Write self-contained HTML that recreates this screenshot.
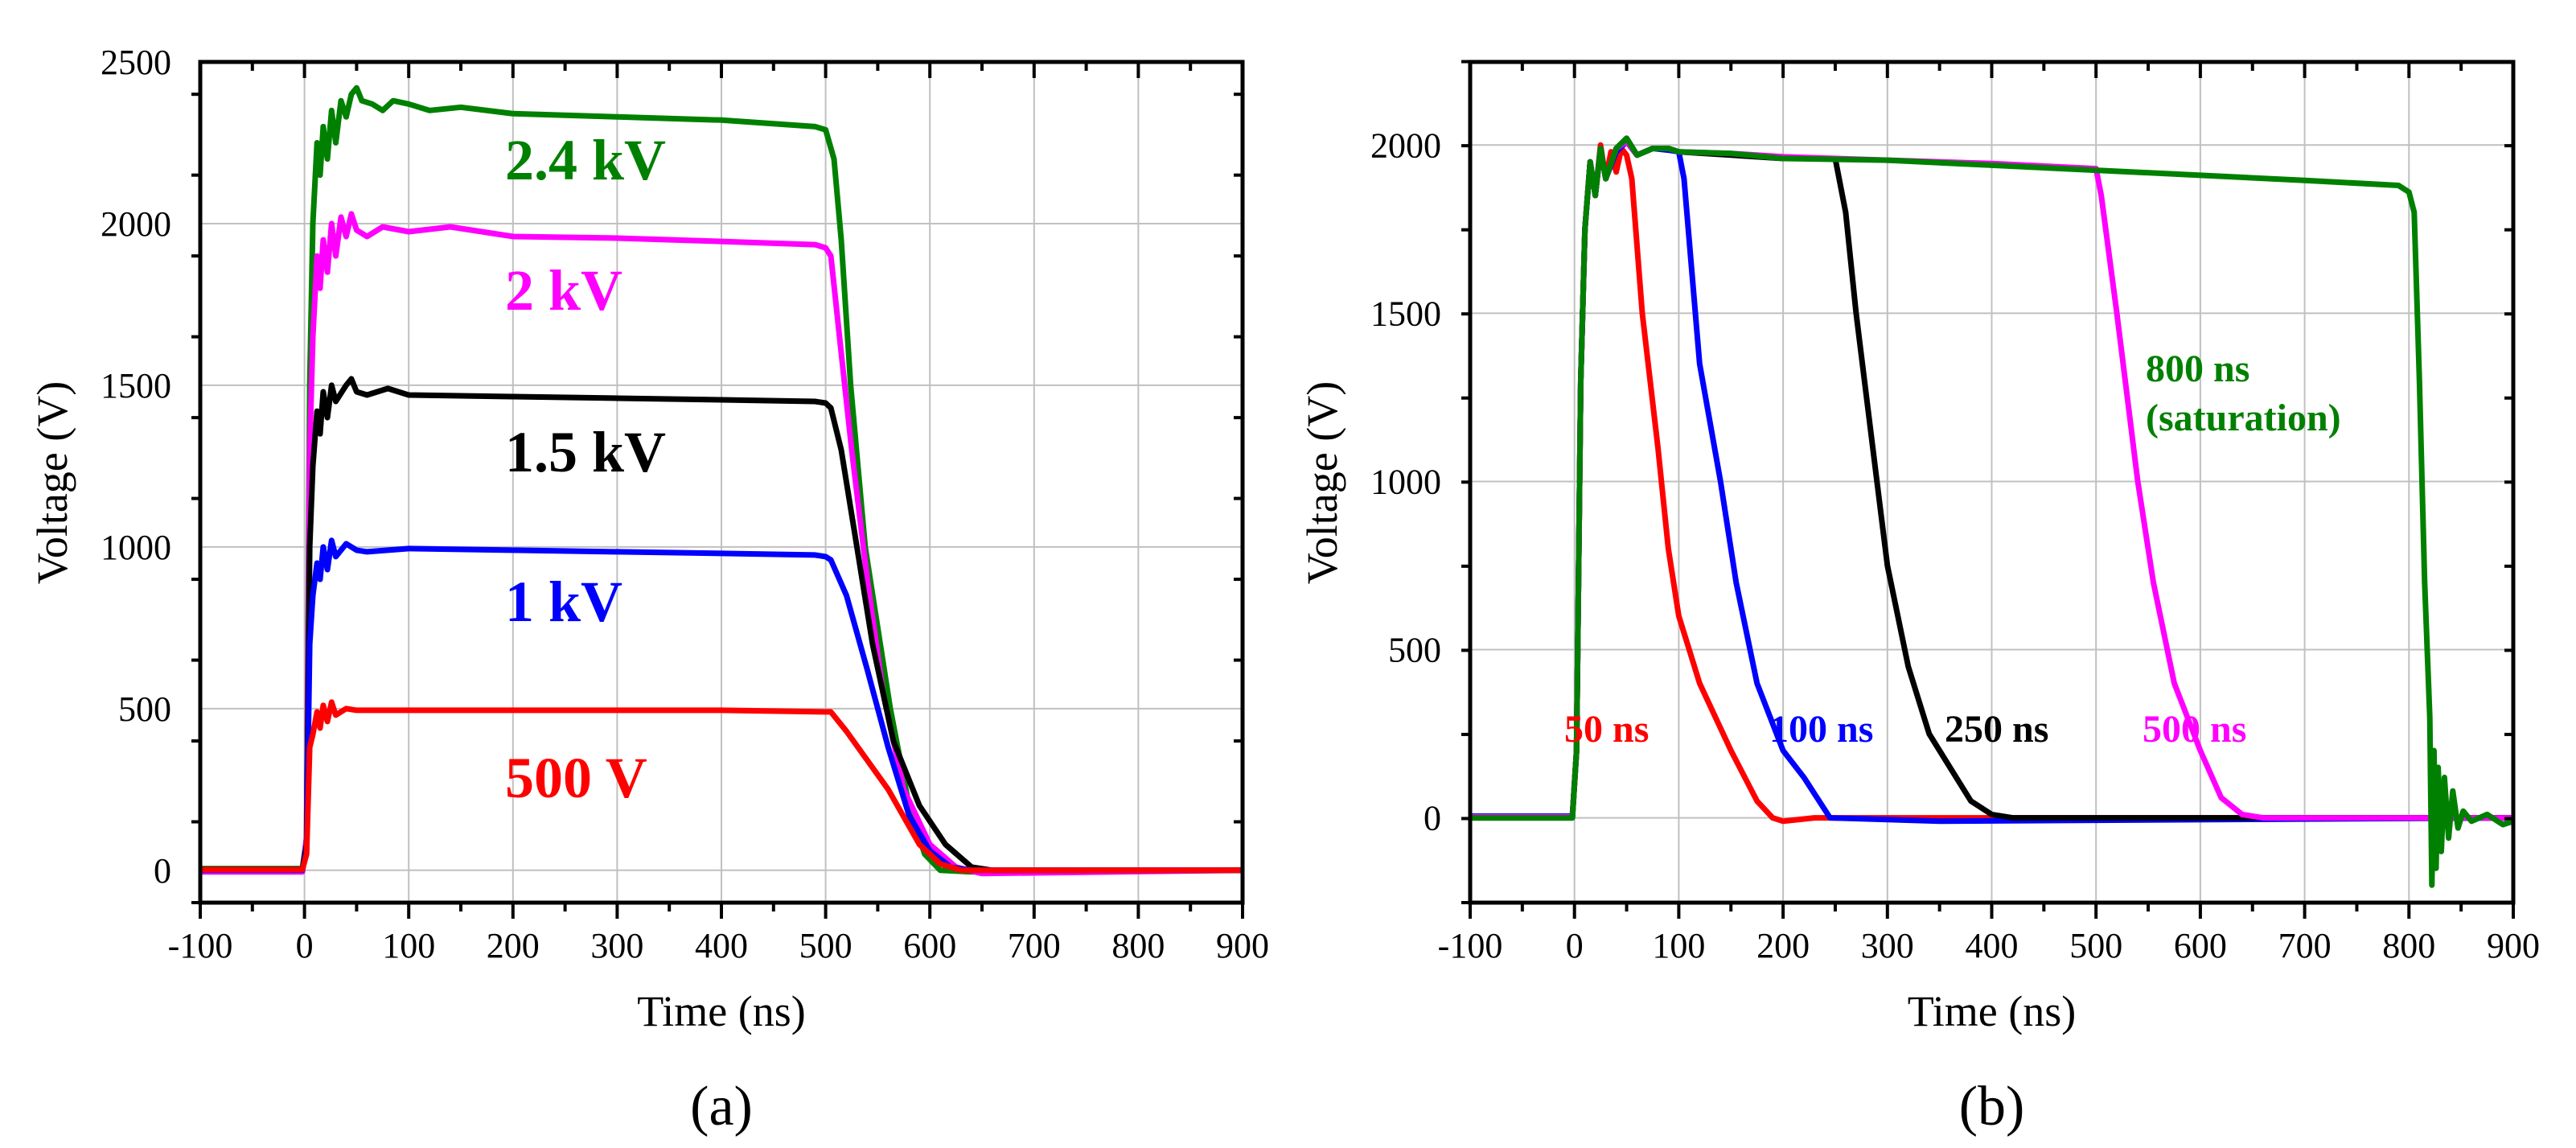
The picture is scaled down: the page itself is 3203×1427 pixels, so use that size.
<!DOCTYPE html>
<html><head><meta charset="utf-8"><style>
html,body{margin:0;padding:0;background:#fff;}
svg{display:block;font-family:"Liberation Serif",serif;}
</style></head><body>
<svg id="fig" width="3203" height="1427" viewBox="0 0 3203 1427" xmlns="http://www.w3.org/2000/svg">
<g id="pa"></g>
<g id="pb"></g>
</svg>
<script>
// ---- Panel (a) data ----
const aX_green=[-100,-2,2,5,8,12,15,18,22,26,30,35,40,45,50,55,65,75,85,100,120,150,200,300,400,490,500,508,515,524,538,562,580,595,610,640,900];
const aY_green=[5,5,100,1500,2000,2250,2150,2300,2200,2350,2250,2380,2330,2400,2420,2380,2370,2350,2380,2370,2350,2360,2340,2330,2320,2300,2290,2200,1950,1500,1000,500,200,50,0,-5,0];
const aX_mag=[-100,-2,2,5,8,12,15,18,22,26,30,35,40,45,50,60,75,100,140,200,300,400,490,500,505,515,525,540,555,575,600,625,650,900];
const aY_mag=[-5,-5,100,1300,1650,1900,1800,1950,1850,2000,1900,2020,1960,2030,1980,1960,1990,1975,1990,1960,1955,1945,1935,1925,1900,1600,1300,900,550,250,80,10,-10,0];
const aX_blk=[-100,-2,2,5,8,12,15,18,22,26,30,40,45,50,60,80,100,200,300,400,490,500,505,515,530,545,565,590,615,640,660,900];
const aY_blk=[3,3,80,1000,1250,1420,1350,1480,1400,1500,1450,1500,1520,1480,1470,1490,1470,1465,1460,1455,1450,1445,1430,1300,1000,700,400,200,80,10,0,0];
const aX_blu=[-100,-2,2,5,8,12,15,18,22,26,30,40,50,60,100,200,300,400,490,500,505,520,540,560,580,600,620,640,900];
const aY_blu=[0,0,60,700,850,950,900,1000,930,1020,970,1010,990,985,995,990,985,980,975,970,960,850,620,380,170,60,10,0,0];
const aX_red=[-100,-2,2,5,8,12,15,18,22,26,30,40,50,100,200,300,400,500,505,520,560,590,610,630,900];
const aY_red=[2,2,50,380,420,490,440,510,460,520,480,500,495,495,495,495,495,490,490,430,250,80,20,0,0];
const aSeries=[["green-2.4kv","#008000",aX_green,aY_green],["magenta-2kv","#ff00ff",aX_mag,aY_mag],["black-1.5kv","#000000",aX_blk,aY_blk],["blue-1kv","#0000ff",aX_blu,aY_blu],["red-500v","#ff0000",aX_red,aY_red]];
const aLabels=["2.4 kV","2 kV","1.5 kV","1 kV","500 V"];
const aLabelColors=["#008000","#ff00ff","#000000","#0000ff","#ff0000"];
const aYTicks=[0,500,1000,1500,2000,2500];
const xTicks=[-100,0,100,200,300,400,500,600,700,800,900];
// ---- Panel (b) data ----
const bX_red=[-100,-2,2,6,10,15,20,25,30,35,40,45,50,55,65,80,90,100,120,150,175,190,200,230,900];
const bY_red=[5,5,200,1300,1750,1950,1850,2000,1900,1980,1920,1990,1970,1900,1500,1100,800,600,400,200,50,0,-10,0,0];
const bX_blu=[-100,-2,2,6,10,15,20,25,30,40,50,60,75,90,100,105,120,140,155,175,200,220,245,350,900];
const bY_blu=[5,5,200,1300,1750,1950,1850,1990,1900,1980,2010,1970,1990,1985,1980,1900,1350,1000,700,400,200,120,0,-10,0];
const bX_blk=[-100,-2,2,6,10,15,20,25,30,40,50,60,75,90,100,150,200,250,260,270,290,300,320,340,360,380,400,420,900];
const bY_blk=[0,0,200,1300,1750,1950,1850,1990,1900,1990,2020,1970,1990,1990,1980,1970,1960,1960,1800,1500,1000,750,450,250,150,50,10,0,0];
const bX_mag=[-100,-2,2,6,10,15,20,25,30,40,50,60,75,90,100,150,200,300,400,500,505,520,540,555,575,600,620,640,660,900];
const bY_mag=[3,3,200,1300,1750,1950,1850,1990,1900,1990,2010,1970,1990,1990,1980,1975,1965,1955,1945,1930,1850,1500,1000,700,400,200,60,10,0,0];
const bX_grn=[-100,-2,2,6,10,15,20,25,30,40,50,60,75,90,100,150,200,300,400,500,600,700,790,800,805,810,815,820,822,824,826,828,831,834,838,842,847,852,860,875,890,900];
const bY_grn=[0,0,200,1300,1750,1950,1850,1990,1900,1990,2020,1970,1990,1990,1980,1975,1960,1955,1940,1925,1910,1895,1880,1860,1800,1300,700,300,-200,200,-150,150,-100,120,-60,80,-30,20,-10,10,-20,-10];
const bSeries=[["red-50ns","#ff0000",bX_red,bY_red],["blue-100ns","#0000ff",bX_blu,bY_blu],["black-250ns","#000000",bX_blk,bY_blk],["magenta-500ns","#ff00ff",bX_mag,bY_mag],["green-800ns","#008000",bX_grn,bY_grn]];
const bYTicks=[0,500,1000,1500,2000];

const NS="http://www.w3.org/2000/svg";
function mk(parent,tag,attrs,text){const e=document.createElementNS(NS,tag);for(const k in attrs)e.setAttribute(k,attrs[k]);if(text!==undefined)e.textContent=text;parent.appendChild(e);return e;}

function panel(g,cfg){
  const L=cfg.L,R=cfg.R,T=77,B=1122;
  const sx=v=>L+(v+100)/1000*(R-L);
  const sy=v=>B-(v-cfg.ymin)/(cfg.ymax-cfg.ymin)*(B-T);
  for(const t of xTicks){ if(t===-100||t===900)continue;
    const l=mk(g,'line',{x1:sx(t),x2:sx(t),y1:T,y2:B,stroke:'#c0c0c0','stroke-width':2});
    
    }
  for(const t of cfg.yTicks){ if(t===cfg.ymax)continue;
    const l=mk(g,'line',{x1:L,x2:R,y1:sy(t),y2:sy(t),stroke:'#c0c0c0','stroke-width':2});
    
    }
  for(const s of cfg.series){
    let d='';for(let i=0;i<s[2].length;i++)d+=(i?'L':'M')+sx(s[2][i]).toFixed(1)+' '+sy(s[3][i]).toFixed(1);
    const p=mk(g,'path',{d:d,fill:'none',stroke:s[1],'stroke-width':7,'stroke-linejoin':'round'});
    
    
  }
  const f=mk(g,'rect',{x:L,y:T,width:R-L,height:B-T,fill:'none',stroke:'#000','stroke-width':5});
  
  
  for(let v=-100;v<=900;v+=50){const maj=v%100===0;const len=maj?20:11;
    mk(g,'line',{x1:sx(v),x2:sx(v),y1:B,y2:B+len,stroke:'#000','stroke-width':4});
    mk(g,'line',{x1:sx(v),x2:sx(v),y1:T,y2:T+len,stroke:'#000','stroke-width':4});}
  for(const t of xTicks){const tx=mk(g,'text',{x:sx(t),y:1190,'font-size':44,'text-anchor':'middle'},String(t));
    
    }
  for(let v=cfg.ymin;v<=cfg.ymax+1;v+=250){const maj=v%500===0;const len=maj?20:11;
    mk(g,'line',{x1:L-len,x2:L,y1:sy(v),y2:sy(v),stroke:'#000','stroke-width':4});
    mk(g,'line',{x1:R-len,x2:R,y1:sy(v),y2:sy(v),stroke:'#000','stroke-width':4});}
  for(const t of cfg.yTicks){const tx=mk(g,'text',{x:L-36,y:sy(t)+15,'font-size':44,'text-anchor':'end'},String(t));
    
    }
  const xt=mk(g,'text',{x:(L+R)/2,y:1275,'font-size':54,'text-anchor':'middle'},'Time (ns)');
  
  
  const yx=cfg.L-166;
  const yt=mk(g,'text',{x:yx,y:600,'font-size':54,'text-anchor':'middle',transform:'rotate(-90 '+yx+' 600)'},'Voltage (V)');
  
  
  const cap=mk(g,'text',{x:(L+R)/2,y:1398,'font-size':70,'text-anchor':'middle'},cfg.cap);
  
  
}
const pa=document.getElementById('pa'),pb=document.getElementById('pb');
panel(pa,{L:249,R:1545,ymin:-100,ymax:2500,yTicks:aYTicks,series:aSeries,cap:'(a)'});
panel(pb,{L:1828,R:3125,ymin:-252,ymax:2247,yTicks:bYTicks,series:bSeries,cap:'(b)'});
const aLabY=[223,385,586,772,991];
for(let i=0;i<aLabels.length;i++){
  const t=mk(pa,'text',{x:628,y:aLabY[i],'font-size':72,'font-weight':'bold',fill:aLabelColors[i]},aLabels[i]);
  
  
}
const bLab=[["50 ns",1945,922,"#ff0000"],["100 ns",2200,922,"#0000ff"],["250 ns",2418,922,"#000000"],["500 ns",2664,922,"#ff00ff"],["800 ns",2668,474,"#008000"],["(saturation)",2668,535,"#008000"]];
for(const b of bLab){
  const t=mk(pb,'text',{x:b[1],y:b[2],'font-size':48,'font-weight':'bold',fill:b[3]},b[0]);
  
  
}
</script>
</body></html>
